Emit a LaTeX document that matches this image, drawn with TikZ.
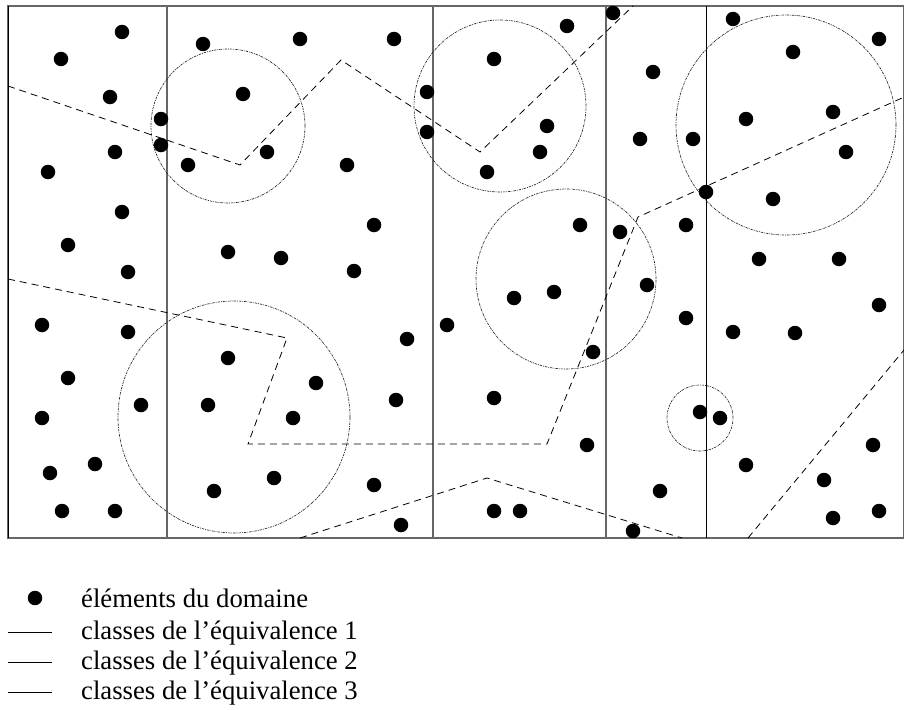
\documentclass[tikz,border=0pt]{standalone}
\usepackage{fontspec}
\setmainfont{Liberation Serif}
\begin{document}
\begin{tikzpicture}[x=1pt,y=-1pt,
  dot/.style={circle,fill=black,inner sep=0pt,minimum size=14.5pt},
  frameline/.style={draw=black!60,line width=1.1pt},
  blackline/.style={draw=black,line width=1pt},
  eqtwo/.style={draw=black,line width=0.8pt,dash pattern=on 7pt off 5pt},
  eqthree/.style={draw=black!85,line width=0.65pt,dash pattern=on 2.5pt off 1pt on 0.8pt off 1pt},
  legline/.style={draw=black,line width=0.8pt},
  legtext/.style={anchor=base west,inner sep=0pt,font=\fontsize{26.7}{30}\selectfont}]
\useasboundingbox (0,0) rectangle (904,709);
\fill[white] (0,0) rectangle (904,709);
% frame and classes of equivalence 1
\draw[frameline] (8,6) rectangle (903.5,538);
\draw[blackline] (8,6) -- (8,538);
\draw[frameline] (167,6) -- (167,538);
\draw[frameline] (433,6) -- (433,538);
\draw[frameline] (606,6) -- (606,538);
\draw[blackline] (706,6) -- (706,538);
% classes of equivalence 2
\coordinate (p1) at (8,86); \coordinate (p2) at (240,165); \coordinate (p3) at (341,60);
\coordinate (p4) at (480,152); \coordinate (p5) at (633,6);
\draw[eqtwo] (p1) -- (p2) -- (p3) -- (p4) -- (p5);
\coordinate (q1) at (8,279); \coordinate (q2) at (287,338); \coordinate (q3) at (248,444);
\coordinate (q4) at (547,444); \coordinate (q5) at (638,217); \coordinate (q6) at (902,98);
\draw[eqtwo] (q1) -- (q2) -- (q3) -- (q4) -- (q5) -- (q6);
\coordinate (r1) at (300,538); \coordinate (r2) at (487,478); \coordinate (r3) at (682,538);
\draw[eqtwo] (r1) -- (r2) -- (r3);
\coordinate (s1) at (748,538); \coordinate (s2) at (904,350);
\draw[eqtwo] (s1) -- (s2);
% classes of equivalence 3
\draw[eqthree] (228,126) circle[radius=77pt];
\draw[eqthree] (500,106) circle[radius=86pt];
\draw[eqthree] (566,279) circle[radius=90pt];
\draw[eqthree] (786,125) circle[radius=110pt];
\draw[eqthree] (234,417) circle[radius=116pt];
\draw[eqthree] (700,418) circle[radius=33pt];
% domain elements
\foreach \p [count=\i] in {(122,32),(61,59),(203,44),(300,39),(394,39),(567,26),(613,13),(733,19),(879,39),
(494,59),(653,72),(793,52),
(110,97),(243,94),(427,92),
(161,119),(161,145),(547,126),(746,119),(833,112),
(427,132),(640,139),(693,139),
(115,152),(267,152),(540,152),(846,152),
(188,165),(347,165),(487,172),
(48,172),
(706,192),(773,199),
(122,212),(374,225),(580,225),(620,232),(686,225),
(68,245),(228,252),(281,258),(759,259),(839,259),
(128,272),(354,271),
(647,285),
(514,298),(554,292),
(879,305),
(42,325),(447,325),(686,318),
(128,332),(733,332),(795,333),
(407,339),
(593,352),
(228,358),
(68,378),(316,383),
(141,405),(208,405),(396,400),(494,398),
(700,412),(720,418),
(42,418),(293,418),
(587,445),(873,445),
(95,464),(746,465),
(50,473),(274,478),(824,480),
(214,491),(374,485),(660,491),
(62,511),(115,511),(494,511),(520,511),(879,511),
(833,518),
(401,525),
(633,531)}
  \node[dot] (d\i) at \p {};
% legend
\node[dot] (ldot) at (35,598) {};
\coordinate (la1) at (8,632); \coordinate (lb1) at (52,632);
\coordinate (la2) at (8,662); \coordinate (lb2) at (52,662);
\coordinate (la3) at (8,692); \coordinate (lb3) at (52,692);
\draw[legline] (la1) -- (lb1);
\draw[legline] (la2) -- (lb2);
\draw[legline] (la3) -- (lb3);
\node[legtext] (t0) at (81,607) {éléments du domaine};
\node[legtext] (t1) at (81,639) {classes de l’équivalence 1};
\node[legtext] (t2) at (81,669) {classes de l’équivalence 2};
\node[legtext] (t3) at (81,699) {classes de l’équivalence 3};
\end{tikzpicture}
\end{document}
